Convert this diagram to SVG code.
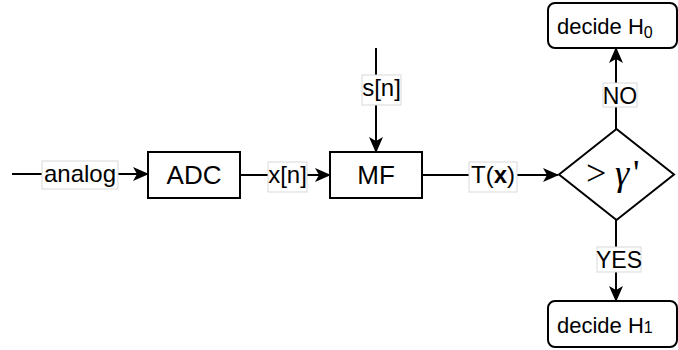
<svg xmlns="http://www.w3.org/2000/svg" width="678" height="350" viewBox="0 0 678 350">
<style>
.box{fill:#fff;stroke:#000;stroke-width:2}
.ln{fill:none;stroke:#000;stroke-width:2}
.lbl{fill:#fff;stroke:#d9d9d9;stroke-width:1}
.t{font-family:"Liberation Sans",Arial,sans-serif;fill:#000}
.el{font-size:24px;text-anchor:middle}
.bt{font-size:26px;text-anchor:middle}
</style>
<defs>
<marker id="ar" markerWidth="16" markerHeight="16" refX="15" refY="8" orient="auto" markerUnits="userSpaceOnUse">
<path d="M0,1 L16,8 L0,15 L4,8 Z" fill="#000"/>
</marker>
</defs>
<g id="connectors">
<path class="ln" d="M12,174 L148,174" marker-end="url(#ar)"/>
<path class="ln" d="M240,175 L330,175" marker-end="url(#ar)"/>
<path class="ln" d="M376,48 L376,152" marker-end="url(#ar)"/>
<path class="ln" d="M422,175 L558,175" marker-end="url(#ar)"/>
<path class="ln" d="M616,129 L616,48" marker-end="url(#ar)"/>
<path class="ln" d="M616,220 L616,301" marker-end="url(#ar)"/>
<g id="lbl-analog"><rect class="lbl" x="42" y="161" width="76" height="28"/><text class="t el" x="80" y="182">analog</text></g>
<g id="lbl-xn"><rect class="lbl" x="268" y="162" width="39" height="30"/><text class="t el" x="287.5" y="183">x[n]</text></g>
<g id="lbl-sn"><rect class="lbl" x="362" y="75" width="39" height="30"/><text class="t el" x="381.5" y="96">s[n]</text></g>
<g id="lbl-Tx"><rect class="lbl" x="469" y="162" width="48" height="30"/><text class="t el" x="493" y="183">T(<tspan font-weight="bold">x</tspan>)</text></g>
<g id="lbl-no"><rect class="lbl" x="603" y="83" width="34" height="24"/><text class="t el" x="620" y="104" style="font-size:23px">NO</text></g>
<g id="lbl-yes"><rect class="lbl" x="597" y="247" width="44" height="25"/><text class="t el" x="619" y="268" style="font-size:23px">YES</text></g>
</g>
<g id="adc"><rect class="box" x="148" y="152" width="92" height="46"/><text class="t bt" x="194" y="184">ADC</text></g>
<g id="mf"><rect class="box" x="330" y="152" width="92" height="46"/><text class="t bt" x="376" y="184">MF</text></g>
<g id="decision"><path class="box" d="M559,174.5 L616.5,129 L674,174.5 L616.5,220 Z"/><text x="586" y="185" font-size="36" font-family="'Liberation Serif','Times New Roman',serif">&gt;<tspan x="615" font-style="italic">γ</tspan><tspan x="633">'</tspan></text></g>
<g id="h0"><rect class="box" x="548" y="3" width="129" height="45" rx="7"/><text class="t" x="557" y="34" font-size="22">decide H<tspan font-size="16" dy="4">0</tspan></text></g>
<g id="h1"><rect class="box" x="548" y="301" width="129" height="46" rx="7"/><text class="t" x="557" y="333" font-size="22">decide H<tspan font-size="16">1</tspan></text></g>
</svg>
